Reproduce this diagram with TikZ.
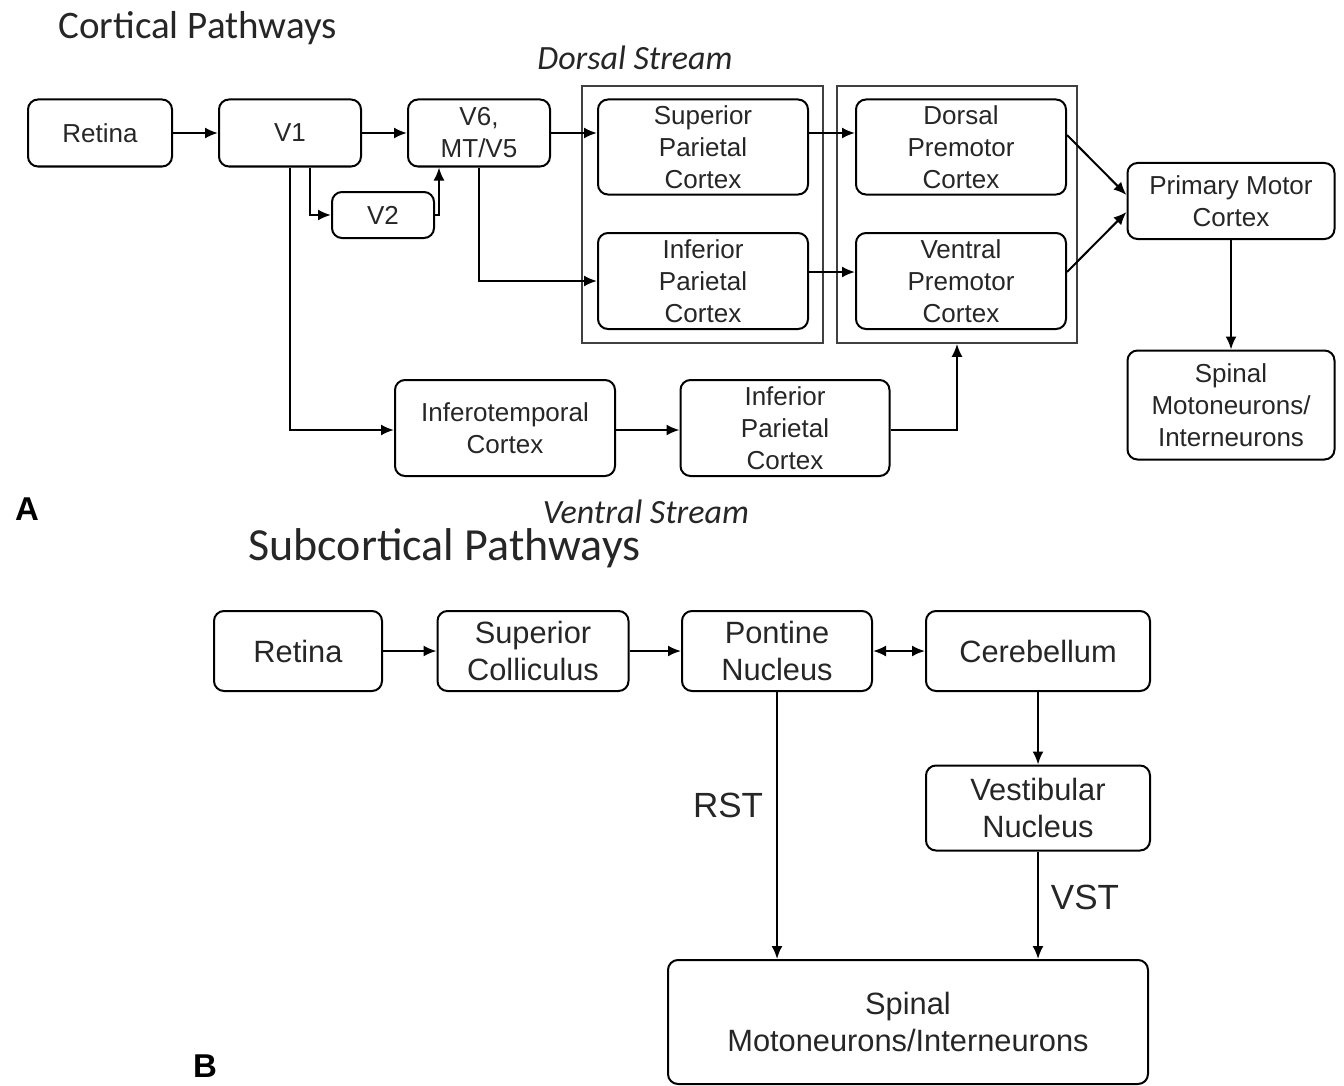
\documentclass[tikz,border=0pt]{standalone}
\usepackage{fontspec}
\setmainfont{Liberation Sans}
\newfontfamily\titlefont{Carlito}
\usetikzlibrary{arrows.meta,calc}

\begin{document}
\begin{tikzpicture}[x=0.5pt,y=-0.5pt,
  box/.style={draw, line width=1pt, rounded corners=5pt, align=center, inner sep=0pt,
    font=\fontsize{13}{16}\selectfont, text=black!85},
  boxB/.style={box, font=\fontsize{15.4}{18.5}\selectfont},
  frame/.style={draw=black!75, line width=0.8pt, inner sep=0pt},
  arr/.style={line width=1pt, -{Latex[length=6.5pt,width=5.5pt]}},
  dblarr/.style={line width=1pt, {Latex[length=6.5pt,width=5.5pt]}-{Latex[length=6.5pt,width=5.5pt]}},
  lbl/.style={inner sep=0pt, text=black!85},
]
\useasboundingbox (0,0) rectangle (1344,1086);

% ---------- titles and panel letters ----------
\node[lbl, anchor=west, font=\titlefont\fontsize{19.5}{23}\selectfont] (t1) at (58,28) {Cortical Pathways};
\node[lbl, font=\titlefont\itshape\fontsize{17}{20}\selectfont] (ds) at (635,58) {Dorsal Stream};
\node[lbl, font=\titlefont\itshape\fontsize{17}{20}\selectfont] (vs) at (646,512) {Ventral Stream};
\node[lbl, anchor=west, font=\titlefont\fontsize{23}{27}\selectfont] (t2) at (248,548) {Subcortical Pathways};
\node[lbl, font=\bfseries\fontsize{16.5}{20}\selectfont, text=black] (la) at (27,509) {A};
\node[lbl, font=\bfseries\fontsize{16.5}{20}\selectfont, text=black] (lb) at (205,1066) {B};

% ---------- A: cortical pathways ----------
\node[frame, minimum width=120.5pt, minimum height=128.5pt] (outer1) at (702.5,214.5) {};
\node[frame, minimum width=120pt, minimum height=128.5pt] (outer2) at (957,214.5) {};

\node[box, minimum width=72pt, minimum height=33.5pt] (retA) at (100,133) {Retina};
\node[box, minimum width=71pt, minimum height=33.5pt] (v1) at (290,133) {V1};
\node[box, minimum width=71pt, minimum height=33.5pt] (v6) at (479,133) {V6,\\MT/V5};
\node[box, minimum width=51pt, minimum height=23pt] (v2) at (383,215) {V2};
\node[box, minimum width=105pt, minimum height=47.5pt] (spc) at (703,147) {Superior\\Parietal\\Cortex};
\node[box, minimum width=105pt, minimum height=48pt] (ipc) at (703,281) {Inferior\\Parietal\\Cortex};
\node[box, minimum width=105pt, minimum height=47.5pt] (dpm) at (961,147) {Dorsal\\Premotor\\Cortex};
\node[box, minimum width=105pt, minimum height=48pt] (vpm) at (961,281) {Ventral\\Premotor\\Cortex};
\node[box, minimum width=103.5pt, minimum height=38pt] (pmc) at (1231,201) {Primary Motor\\Cortex};
\node[box, minimum width=103.5pt, minimum height=54.5pt] (spA) at (1231,405) {Spinal\\Motoneurons/\\Interneurons};
\node[box, minimum width=110pt, minimum height=48pt] (itc) at (505,428) {Inferotemporal\\Cortex};
\node[box, minimum width=104.5pt, minimum height=48pt] (ipv) at (785,428) {Inferior\\Parietal\\Cortex};

\draw[arr] (retA.east) -- (v1.west);
\draw[arr] (v1.east) -- (v6.west);
\draw[arr] ($(v1.south)+(20,0)$) |- (v2.west);
\draw[arr] (v2.east) -| ($(v6.south west)+(32,0)$);
\draw[arr] (v6.east) -- (v6.east -| spc.west);
\draw[arr] (v6.south) |- (ipc.west);
\draw[arr] ($(spc.east)+(0,-14)$) -- ($(dpm.west)+(0,-14)$);
\draw[arr] ($(ipc.east)+(0,-9)$) -- ($(vpm.west)+(0,-9)$);
\draw[arr] ($(dpm.east)+(0,-12)$) -- ($(pmc.west)+(0,-6)$);
\draw[arr] ($(vpm.east)+(0,-9)$) -- ($(pmc.west)+(0,11)$);
\draw[arr] (pmc.south) -- (spA.north);
\draw[arr] (v1.south) |- ($(itc.west)+(0,2)$);
\draw[arr] ($(itc.east)+(0,2)$) -- ($(ipv.west)+(0,2)$);
\draw[arr] ($(ipv.east)+(0,2)$) -| (outer2.south);

% ---------- B: subcortical pathways ----------
\node[boxB, minimum width=84pt, minimum height=40pt] (retB) at (298,651) {Retina};
\node[boxB, minimum width=95.5pt, minimum height=40pt] (sc) at (533,651) {Superior\\Colliculus};
\node[boxB, minimum width=95pt, minimum height=40pt] (pn) at (777,651) {Pontine\\Nucleus};
\node[boxB, minimum width=112pt, minimum height=40pt] (cb) at (1038,651) {Cerebellum};
\node[boxB, minimum width=112pt, minimum height=42.5pt] (vn) at (1038,808) {Vestibular\\Nucleus};
\node[boxB, minimum width=240pt, minimum height=62pt] (spB) at (908,1022) {Spinal\\Motoneurons/Interneurons};

\draw[arr] (retB.east) -- (sc.west);
\draw[arr] (sc.east) -- (pn.west);
\draw[dblarr] (pn.east) -- (cb.west);
\draw[arr] (cb.south) -- (vn.north);
\draw[arr] (pn.south) -- (pn.south |- spB.north);
\draw[arr] (vn.south) -- (vn.south |- spB.north);

\node[lbl, font=\fontsize{17.5}{21}\selectfont] (rst) at (728,805) {RST};
\node[lbl, font=\fontsize{17.5}{21}\selectfont] (vst) at (1085,897) {VST};
\end{tikzpicture}
\end{document}
